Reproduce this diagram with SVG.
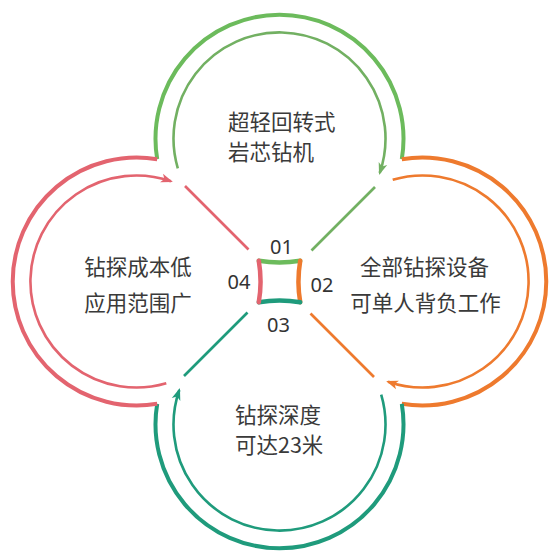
<svg xmlns="http://www.w3.org/2000/svg" width="549" height="553" viewBox="0 0 549 553">
<style>
.o{fill:none;stroke-width:4;stroke-linecap:butt}
.i{fill:none;stroke-width:2.6}
.e{fill:none;stroke-width:4.5;stroke-linecap:round}
.d{fill:none;stroke-width:2.6}
.g{stroke:#6cbb5c}
.gi{stroke:#72b062}
.r{stroke:#e3646f}
.or{stroke:#ee7a2e}
.t{stroke:#1f9b7c}
.txt{font-family:"Noto Sans CJK SC","Noto Sans",sans-serif;font-size:21.5px;fill:#3a3a3a}
.num{font-family:"Noto Sans","Liberation Sans",sans-serif;font-size:20px;fill:#333;text-anchor:middle}
</style>
<defs>
<marker id="ag" viewBox="0 0 12 10" refX="10" refY="5" markerWidth="12" markerHeight="10" markerUnits="userSpaceOnUse" orient="auto"><path d="M0,0.5 L12,5 L0,9.5 L3,5 z" fill="#72b062"/></marker>
<marker id="ar" viewBox="0 0 12 10" refX="10" refY="5" markerWidth="12" markerHeight="10" markerUnits="userSpaceOnUse" orient="auto"><path d="M0,0.5 L12,5 L0,9.5 L3,5 z" fill="#e3646f"/></marker>
<marker id="ao" viewBox="0 0 12 10" refX="10" refY="5" markerWidth="12" markerHeight="10" markerUnits="userSpaceOnUse" orient="auto"><path d="M0,0.5 L12,5 L0,9.5 L3,5 z" fill="#ee7a2e"/></marker>
<marker id="at" viewBox="0 0 12 10" refX="10" refY="5" markerWidth="12" markerHeight="10" markerUnits="userSpaceOnUse" orient="auto"><path d="M0,0.5 L12,5 L0,9.5 L3,5 z" fill="#1f9b7c"/></marker>
</defs>
<rect width="549" height="553" fill="#ffffff"/>

<g id="node-top">
<path class="o g" d="M157.2,159.2 A124,124 0 1 1 401.8,159.2"/>
<path class="i gi" d="M177.8,168.3 A106,106 0 1 1 379.7,173" marker-end="url(#ag)"/>
<text class="txt" x="228" y="130">超轻回转式</text>
<text class="txt" x="228" y="160">岩芯钻机</text>
</g>

<g id="node-right">
<path class="o or" d="M401.8,159.2 A124,124 0 1 1 401.8,403.8"/>
<path class="i or" d="M392.7,179.8 A106,106 0 1 1 388,381.7" marker-end="url(#ao)"/>
<text class="txt" x="424.5" y="275" text-anchor="middle">全部钻探设备</text>
<text class="txt" x="425.5" y="311" text-anchor="middle">可单人背负工作</text>
</g>

<g id="node-bottom">
<path class="o t" d="M401.8,403.8 A124,124 0 1 1 157.2,403.8"/>
<path class="i t" d="M381.2,394.7 A106,106 0 1 1 179.3,390" marker-end="url(#at)"/>
<text class="txt" x="235" y="423">钻探深度</text>
<text class="txt" x="235" y="453">可达23米</text>
</g>

<g id="node-left">
<path class="o r" d="M157.2,403.8 A124,124 0 1 1 157.2,159.2"/>
<path class="i r" d="M166.3,383.2 A106,106 0 1 1 171,181.3" marker-end="url(#ar)"/>
<text class="txt" x="138" y="275" text-anchor="middle">钻探成本低</text>
<text class="txt" x="138" y="311" text-anchor="middle">应用范围广</text>
</g>

<g id="node-center">
<path class="e g" d="M258.8,260.8 A124,124 0 0 0 300.2,260.8"/>
<path class="e or" d="M300.2,260.8 A124,124 0 0 0 300.2,302.2"/>
<path class="e t" d="M300.2,302.2 A124,124 0 0 0 258.8,302.2"/>
<path class="e r" d="M258.8,302.2 A124,124 0 0 0 258.8,260.8"/>
<text class="num" x="281.5" y="253.5">01</text>
<text class="num" x="322" y="292">02</text>
<text class="num" x="278.5" y="332">03</text>
<text class="num" x="239" y="288.5">04</text>
</g>

<g id="connectors">
<line class="d gi" x1="375" y1="187" x2="311.5" y2="250.5"/>
<line class="d or" x1="374" y1="377" x2="310.5" y2="313.5"/>
<line class="d t" x1="184" y1="376" x2="247.5" y2="312.5"/>
<line class="d r" x1="185" y1="186" x2="248.5" y2="249.5"/>
</g>
</svg>
